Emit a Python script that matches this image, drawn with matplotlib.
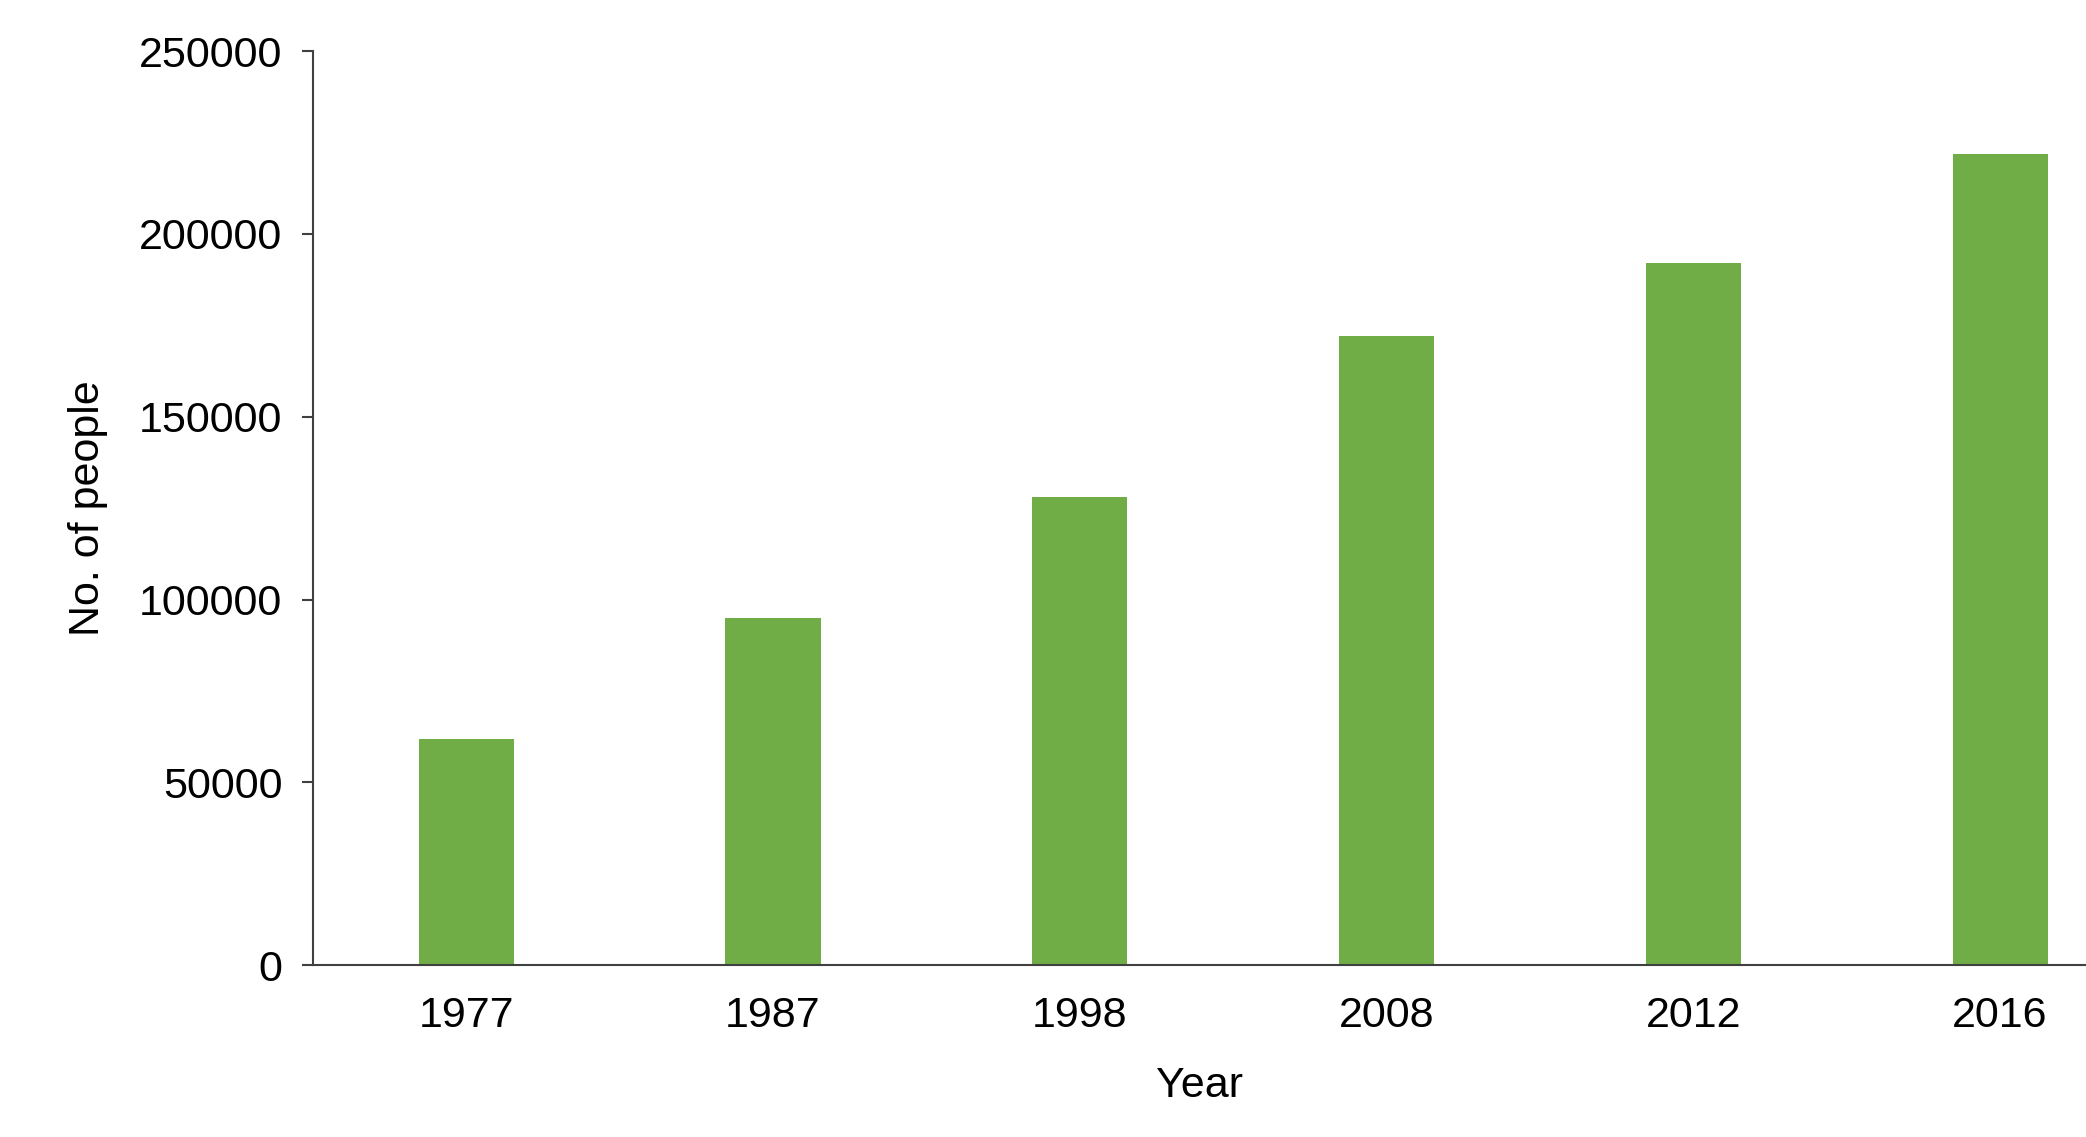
import matplotlib
matplotlib.use("Agg")
import matplotlib.pyplot as plt

years = ["1977", "1987", "1998", "2008", "2012", "2016"]
people = [62000, 95000, 128000, 172000, 192000, 222000]

plt.rcParams['font.family'] = ['Liberation Sans', 'DejaVu Sans']
fig = plt.figure(figsize=(20.86, 11.37), dpi=100)
ax = fig.add_axes([0.150, 0.151, 0.85, 0.804])
x = range(len(years))
ax.bar(x, people, width=0.31, color="#70ad47")
ax.set_xticks(list(x))
ax.set_xticklabels(years)
ax.set_xlim(-0.5, 5.28)
ax.set_ylim(0, 250000)
ax.set_yticks(range(0, 250001, 50000))
for s in ["top", "right"]:
    ax.spines[s].set_visible(False)
for s in ["left", "bottom"]:
    ax.spines[s].set_color("#404040")
    ax.spines[s].set_linewidth(1.5)
ax.tick_params(axis="x", length=0, labelsize=31, pad=22)
ax.tick_params(axis="y", length=8, width=1.5, color="#404040", labelsize=31, pad=14)
ax.set_xlabel("Year", fontsize=31, labelpad=22)
ax.set_ylabel("No. of people", fontsize=31, labelpad=22)
fig.savefig("out.png")
